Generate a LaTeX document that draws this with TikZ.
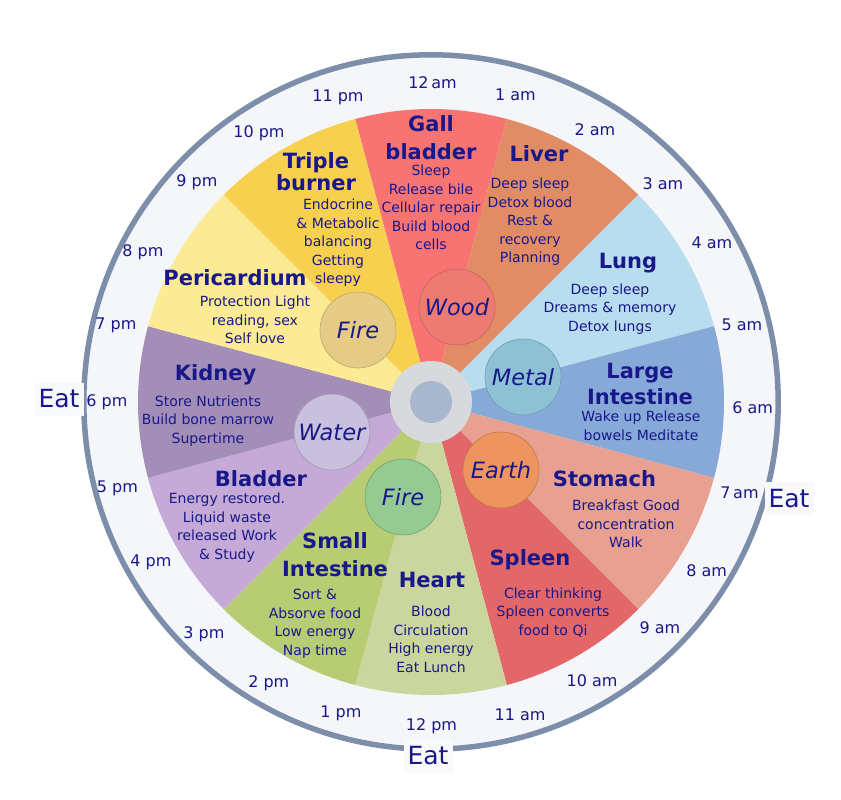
\documentclass[tikz,border=0pt]{standalone}
\usepackage{xcolor}
\usepackage{fontspec}
\setmainfont{DejaVu Sans}
\usepackage{tikz}
\definecolor{ink}{HTML}{18188A}
\definecolor{rim}{HTML}{7D8EAA}
\definecolor{dial}{HTML}{F5F6F9}
\definecolor{eatbg}{HTML}{F8F9FB}
\definecolor{hubring}{HTML}{D8D9DC}
\definecolor{hubcore}{HTML}{A8B7CD}
\definecolor{gallc}{HTML}{F87473}
\definecolor{liverc}{HTML}{E28C66}
\definecolor{lungc}{HTML}{B8DDEE}
\definecolor{largec}{HTML}{86A9D8}
\definecolor{stomachc}{HTML}{E8A090}
\definecolor{spleenc}{HTML}{E36769}
\definecolor{heartc}{HTML}{CBD69F}
\definecolor{smallc}{HTML}{B7CC73}
\definecolor{bladderc}{HTML}{C5AAD7}
\definecolor{kidneyc}{HTML}{A38EB7}
\definecolor{pericc}{HTML}{FCEA94}
\definecolor{triplec}{HTML}{F8D04F}
\definecolor{woodc}{HTML}{EE7B72}
\definecolor{woodline}{HTML}{C4675F}
\definecolor{firec}{HTML}{E6CB86}
\definecolor{fireline}{HTML}{BFA66B}
\definecolor{metalc}{HTML}{8EC1D4}
\definecolor{metalline}{HTML}{6F9DB0}
\definecolor{waterc}{HTML}{C8C0DC}
\definecolor{waterline}{HTML}{9E97B5}
\definecolor{firelowc}{HTML}{95CA92}
\definecolor{firelowline}{HTML}{70A36F}
\definecolor{earthc}{HTML}{EE955F}
\definecolor{earthline}{HTML}{C2774A}

\begin{document}
\begin{tikzpicture}[
    x=1pt, y=-1pt,
    organ/.style={font=\fontsize{21}{28}\selectfont\bfseries, text=ink, align=center, anchor=north, inner sep=0pt, yshift=16pt, execute at begin node={\rule{0pt}{16pt}}},
    note/.style={font=\fontsize{14}{18.5}\selectfont, text=ink, align=center, anchor=north, inner sep=0pt, yshift=11pt, execute at begin node={\rule{0pt}{11pt}}},
    element/.style={circle, minimum size=76pt, inner sep=0pt, line width=0.6pt, font=\fontsize{22.5}{26}\selectfont\itshape, text=ink},
    hour/.style={font=\fontsize{16}{18}\selectfont, text=ink, anchor=base},
    eat/.style={font=\fontsize{25}{30}\selectfont, text=ink, fill=eatbg, inner sep=0pt, minimum width=49pt, minimum height=33pt}
  ]

    \fill[white] (0,0) rectangle (841,800);
    \useasboundingbox (0,0) rectangle (841,800);
    \coordinate (hub) at (431,402);

    % clock face
    \fill[dial] (hub) circle[radius=347];
    \draw[rim, line width=5.5pt] (hub) circle[radius=347.2];

    % organ wedges, two hours each
    \begin{scope}[shift={(hub)}, yscale=-1]
      \foreach \a/\c in {90/gallc, 60/liverc, 30/lungc, 0/largec, -30/stomachc, -60/spleenc,
                         -90/heartc, -120/smallc, -150/bladderc, 180/kidneyc, 150/pericc, 120/triplec}
        \fill[\c] (0,0) -- (\a-15:293) arc[start angle=\a-15, end angle=\a+15, radius=293] -- cycle;
    \end{scope}

    \fill[hubring] (hub) circle[radius=41];
    \fill[hubcore] (hub) circle[radius=21];

    % elements
    \node[element, fill=woodc, draw=woodline] (wood) at (457,307) {Wood};
    \node[element, fill=firec, draw=fireline] (fireup) at (358,330) {Fire};
    \node[element, fill=metalc, draw=metalline] (metal) at (523,377) {Metal};
    \node[element, fill=waterc, draw=waterline] (water) at (332,432) {Water};
    \node[element, fill=firelowc, draw=firelowline] (firelow) at (403,497) {Fire};
    \node[element, fill=earthc, draw=earthline] (earth) at (501,470) {Earth};

    % organs
    \node[organ] (gall) at (431,131.7) {Gall\\bladder};
    \node[note] (gallnote) at (431,176) {Sleep\\Release bile\\Cellular repair\\Build blood\\cells};
    \node[organ] (liver) at (539,161.7) {Liver};
    \node[note] (livernote) at (530,189) {Deep sleep\\Detox blood\\Rest \&\\recovery\\Planning};
    \node[organ] (lung) at (628,268.3) {Lung};
    \node[note] (lungnote) at (610,294.3) {Deep sleep\\Dreams \& memory\\Detox lungs};
    \node[organ] (large) at (640,379.3) {Large\\[-2pt]Intestine};
    \node[note] (largenote) at (641,421.7) {Wake up Release\\bowels Meditate};
    \node[organ] (stomach) at (604.5,486.7) {Stomach};
    \node[note] (stomachnote) at (626,511) {Breakfast Good\\concentration\\Walk};
    \node[organ] (spleen) at (530,565.5) {Spleen};
    \node[note] (spleennote) at (553,598.3) {Clear thinking\\Spleen converts\\food to Qi};
    \node[organ] (heart) at (432,587) {Heart};
    \node[note] (heartnote) at (431,616.7) {Blood\\Circulation\\High energy\\Eat Lunch};
    \node[organ] (small) at (335,548.3) {Small\\Intestine};
    \node[note] (smallnote) at (315,600) {Sort \&\\Absorve food\\Low energy\\Nap time};
    \node[organ] (bladder) at (261,486.7) {Bladder};
    \node[note] (bladdernote) at (227,504) {Energy restored.\\Liquid waste\\released Work\\\& Study};
    \node[organ] (kidney) at (215.5,380) {Kidney};
    \node[note] (kidneynote) at (208,406.5) {Store Nutrients\\Build bone marrow\\Supertime};
    \node[organ] (peri) at (235,285.7) {Pericardium};
    \node[note] (perinote) at (255,306.7) {Protection Light\\reading, sex\\Self love};
    \node[organ] (triple) at (316,168.3) {Triple\\[-6pt]burner};
    \node[note] (triplenote) at (338,210) {Endocrine\\\& Metabolic\\balancing\\Getting\\sleepy};

    % hours round the rim
    \foreach \t/\x/\y [count=\i] in {12\,am/432.5/88.3, 1 am/515.5/100.7, 2 am/595/135, 3 am/663/189,
        4 am/712/248.3, 5 am/742/330.7, 6 am/752.7/413.3, 7\,am/739.5/498.3, 8 am/706.7/576,
        9 am/660/633.3, 10 am/592/686, 11 am/520/720, 12 pm/431.5/730, 1 pm/341/717,
        2 pm/268.8/687, 3 pm/204/638, 4 pm/151/566.7, 5 pm/117.5/492, 6 pm/107/406.7,
        7 pm/116/329, 8 pm/143/256, 9 pm/197/186.7, 10 pm/259/137, 11 pm/338/101.7}
      \node[hour] (hour\i) at (\x,\y) {\t};

    % meal times
    \node[eat] (eatevening) at (59,399) {Eat};
    \node[eat] (eatmorning) at (789,498.5) {Eat};
    \node[eat] (eatnoon) at (428,756) {Eat};

  \end{tikzpicture}
\end{document}
